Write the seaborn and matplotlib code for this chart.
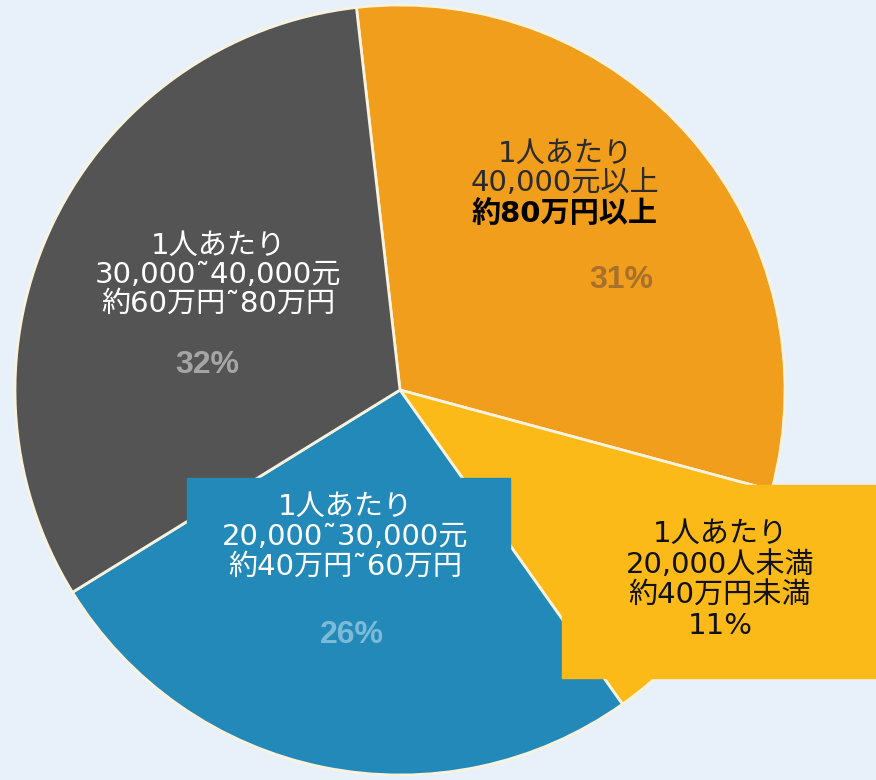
import matplotlib
matplotlib.use('Agg')
import matplotlib.pyplot as plt
import seaborn as sns
from matplotlib.patches import Rectangle

# データ (読み取り値)
shares = [31, 11, 26, 32]
pct_labels = ['31%', '', '26%', '32%']
yen_lines = ['約80万円以上', '約40万円未満', '約40万円˜60万円', '約60万円˜80万円']
yuan_lines = ['40,000元以上', '20,000人未満', '20,000˜30,000元', '30,000˜40,000元']
head = '1人あたり'

slice_colors = ['#F09E1C', '#FBBA18', '#2389B9', '#545454']
pct_colors = ['#9a6a2e', '#000000', '#8cc4de', '#b4b4b4']

sns.set_theme(style='white')
plt.rcParams['font.family'] = ['DejaVu Sans', 'Noto Sans CJK JP']
JP = ['DejaVu Sans', 'Noto Sans CJK JP']
FS = 21

fig = plt.figure(figsize=(8.76, 7.8), dpi=100)
fig.patch.set_facecolor('#e8f1fa')
ax = fig.add_axes([0, 0, 1, 1])
ax.set_facecolor('#e8f1fa')

# 円グラフ (中心・半径はピクセル座標, y は上向き)
wedges, _, autotexts = ax.pie(
    shares, colors=slice_colors, startangle=96.5, counterclock=False,
    center=(400, 390), radius=385, autopct='%1.0f%%', pctdistance=0.6,
    wedgeprops=dict(edgecolor='#f8f3df', linewidth=2),
    textprops=dict(fontsize=23, fontweight='bold', family='Liberation Sans'))

ax.set_xlim(0, 876)
ax.set_ylim(0, 780)
ax.set_aspect('equal')
ax.axis('off')

# パーセント表示の位置を調整
pct_pos = [(621, 780 - 280), None, (352, 780 - 635), (207, 780 - 365)]
for t, lab, c, p in zip(autotexts, pct_labels, pct_colors, pct_pos):
    t.set_text(lab)
    t.set_color(c)
    t.set_alpha(0.85)
    if p is not None:
        t.set_position(p)

# ラベルの背景ボックス
ax.add_patch(Rectangle((187, 780 - 600), 323, 122, color=slice_colors[2], zorder=3))
ax.add_patch(Rectangle((562, 780 - 678), 320, 193, color=slice_colors[1], zorder=3))

# オレンジ
ax.text(565, 780 - 168, head + '\n' + yuan_lines[0], ha='center', va='center',
        fontsize=FS, color='#2b2b2b', family=JP, linespacing=1.05, zorder=4)
ax.text(565, 780 - 214, yen_lines[0], ha='center', va='center',
        fontsize=FS, color='#000000', family=JP, fontweight='bold', zorder=4)

# グレー
ax.text(218, 780 - 275, head + '\n' + yuan_lines[3] + '\n' + yen_lines[3],
        ha='center', va='center', fontsize=FS, color='white', family=JP,
        linespacing=1.05, zorder=4)

# 青
ax.text(345, 780 - 537, head + '\n' + yuan_lines[2] + '\n' + yen_lines[2],
        ha='center', va='center', fontsize=FS, color='white', family=JP,
        linespacing=1.1, zorder=4)

# 黄
ax.text(720, 780 - 580, head + '\n' + yuan_lines[1] + '\n' + yen_lines[1] + '\n' + '11%',
        ha='center', va='center', fontsize=FS, color='#111111', family=JP,
        linespacing=1.12, zorder=4)

fig.savefig('out.png', dpi=100, facecolor=fig.get_facecolor())
